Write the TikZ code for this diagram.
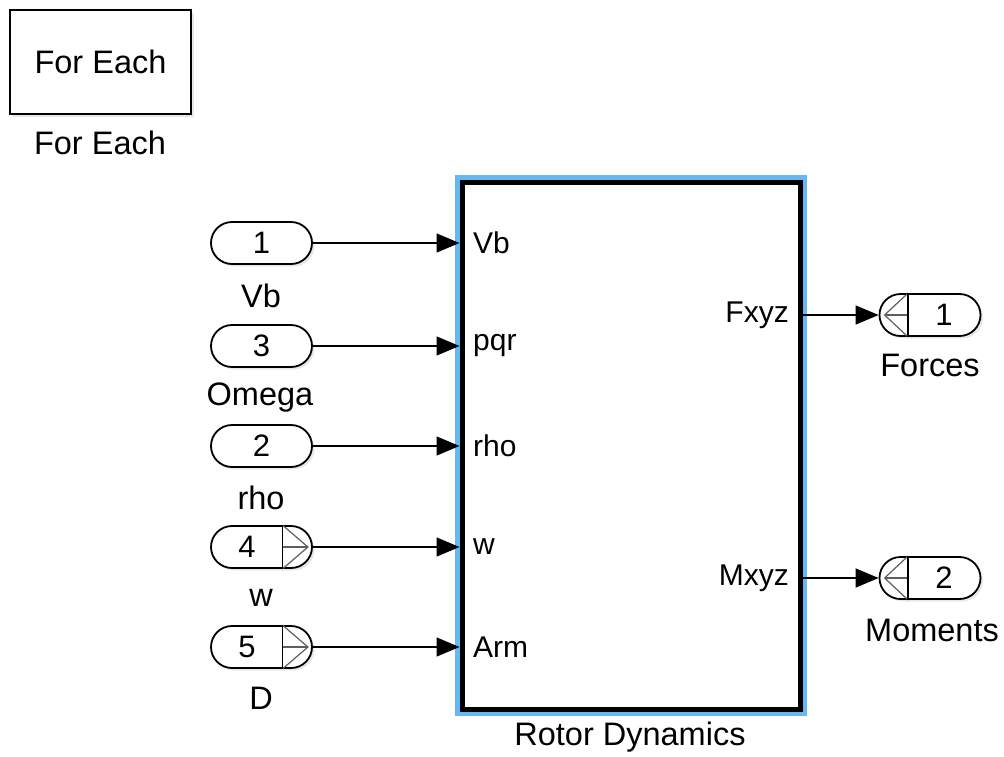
\documentclass[tikz,border=0pt]{standalone}
\usepackage{fontspec}
\setmainfont{Liberation Sans}
\usetikzlibrary{arrows.meta,shapes.misc,shadows}
\definecolor{simblue}{RGB}{100,185,245}
\definecolor{markgray}{RGB}{95,95,95}
\begin{document}
\begin{tikzpicture}[x=1pt,y=-1pt,
  shade/.style={drop shadow={opacity=0.18,shadow xshift=2.5pt,shadow yshift=-2.5pt}},
  blk/.style={draw=black, line width=1.8pt, fill=white, shade, inner sep=0pt},
  portshape/.style={rounded rectangle, draw=black, line width=1.8pt, fill=white, shade,
    minimum width=101pt, minimum height=42pt, inner sep=0pt, font=\fontsize{31}{34}\selectfont},
  lbl/.style={font=\fontsize{32.5}{36}\selectfont, inner sep=0pt},
  plbl/.style={font=\fontsize{30}{34}\selectfont, inner sep=0pt},
  conn/.style={line width=1.4pt, -{Triangle[length=23pt,width=19pt]}},
  portmark/.style={draw=markgray, line width=1.2pt},
  sep/.style={draw=black, line width=1.8pt}
]
\useasboundingbox (0,0) rectangle (1004,756);

% For Each block
\node[blk, minimum width=181pt, minimum height=104pt, lbl] (fe) at (100.5,62) {For Each};
\node[lbl] (felbl) at (100,143) {For Each};

% Rotor Dynamics block
\node[draw=black, line width=5pt, fill=white,
      preaction={draw=simblue, line width=14pt},
      minimum width=338pt, minimum height=527pt, inner sep=0pt] (rd) at (631,445.5) {};
\node[lbl] (rdlbl) at (630,737) {Rotor Dynamics};

% Inports
\node[portshape] (in1) at (261.5,243) {1};
\node[portshape] (in3) at (261.5,346) {3};
\node[portshape] (in2) at (261.5,446) {2};
\node[portshape] (in4) at (261.5,547) {};
\node[portshape] (in5) at (261.5,647) {};
\node[font=\fontsize{31}{34}\selectfont, inner sep=0pt] (n4) at (247,547) {4};
\node[font=\fontsize{31}{34}\selectfont, inner sep=0pt] (n5) at (247,647) {5};

% inport marks (4,5)
\foreach \p in {in4,in5}{
  \coordinate (\p t) at ([xshift=21pt]\p.north);
  \coordinate (\p b) at ([xshift=21pt]\p.south);
  \coordinate (\p c) at ([xshift=21pt]\p.center);
  \coordinate (\p a) at ([xshift=-5pt]\p.east);
  \draw[portmark] (\p t) -- (\p a) -- (\p b);
  \draw[portmark] (\p c) -- (\p a);
  \draw[sep] (\p t) -- (\p b);
}

% Inport labels
\node[lbl] (l1) at (261,296) {Vb};
\node[lbl] (l3) at (260,398) {Omega};
\node[lbl] (l2) at (261,498) {rho};
\node[lbl] (l4) at (261,598) {w};
\node[lbl] (l5) at (261,698) {D};

% Block port labels
\node[plbl, anchor=west] (pvb) at (473,243) {Vb};
\node[plbl, anchor=west] (ppqr) at (473,346) {pqr};
\node[plbl, anchor=west] (prho) at (473,446) {rho};
\node[plbl, anchor=west] (pw) at (473,547) {w};
\node[plbl, anchor=west] (parm) at (473,647) {Arm};
\node[plbl, anchor=east] (pf) at (789,315) {Fxyz};
\node[plbl, anchor=east] (pm) at (789,578) {Mxyz};

% Outports
\node[portshape] (out1) at (930,315) {};
\node[portshape] (out2) at (930,578) {};
\node[font=\fontsize{31}{34}\selectfont, inner sep=0pt] (no1) at (944,315) {1};
\node[font=\fontsize{31}{34}\selectfont, inner sep=0pt] (no2) at (944,578) {2};
\foreach \p in {out1,out2}{
  \coordinate (\p t) at ([xshift=-22pt]\p.north);
  \coordinate (\p b) at ([xshift=-22pt]\p.south);
  \coordinate (\p c) at ([xshift=-22pt]\p.center);
  \coordinate (\p a) at ([xshift=6pt]\p.west);
  \draw[portmark] (\p t) -- (\p a) -- (\p b);
  \draw[portmark] (\p c) -- (\p a);
  \draw[sep] (\p t) -- (\p b);
}
\node[lbl] (lo1) at (930,365) {Forces};
\node[lbl] (lo2) at (932,630) {Moments};

% Connectors
\draw[conn] (in1.east) -- (rd.west |- in1.east);
\draw[conn] (in3.east) -- (rd.west |- in3.east);
\draw[conn] (in2.east) -- (rd.west |- in2.east);
\draw[conn] (in4.east) -- (rd.west |- in4.east);
\draw[conn] (in5.east) -- (rd.west |- in5.east);
\draw[conn] (rd.east |- out1.west) -- (out1.west);
\draw[conn] (rd.east |- out2.west) -- (out2.west);
\end{tikzpicture}
\end{document}
